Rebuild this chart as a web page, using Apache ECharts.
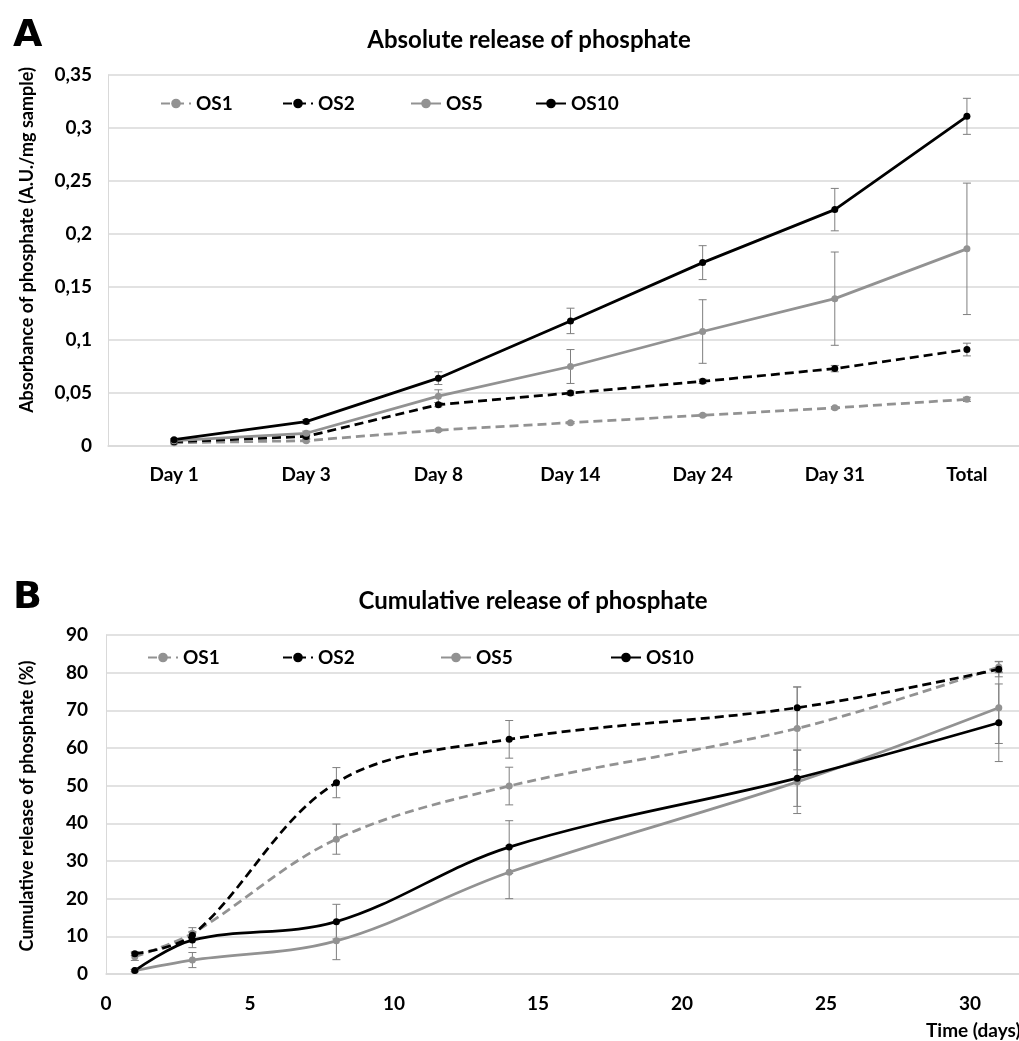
<!DOCTYPE html>
<html>
<head>
<meta charset="utf-8">
<script src="https://cdn.jsdelivr.net/npm/echarts@6/dist/echarts.min.js"></script>
<style>
  html, body { margin: 0; padding: 0; background: #fff; }
  #main { width: 1019px; height: 1041px; }
</style>
</head>
<body>
<div id="main"></div>
<script>
// panel A: absolute release
var categoriesA = ['Day 1', 'Day 3', 'Day 8', 'Day 14', 'Day 24', 'Day 31', 'Total'];
var a_os1 = [0.003, 0.005, 0.015, 0.022, 0.029, 0.036, 0.044];
var a_os1Err = [0.001, 0.001, 0.001, 0.001, 0.001, 0.001, 0.002];
var a_os2 = [0.004, 0.009, 0.039, 0.050, 0.061, 0.073, 0.091];
var a_os2Err = [0.001, 0.002, 0.002, 0.002, 0.002, 0.003, 0.006];
var a_os5 = [0.005, 0.012, 0.047, 0.075, 0.108, 0.139, 0.186];
var a_os5Err = [0.001, 0.002, 0.006, 0.016, 0.030, 0.044, 0.062];
var a_os10 = [0.006, 0.023, 0.064, 0.118, 0.173, 0.223, 0.311];
var a_os10Err = [0.001, 0.002, 0.006, 0.012, 0.016, 0.020, 0.017];

// panel B: cumulative release (%)
var daysB = [1, 3, 8, 14, 24, 31];
var b_os1 = [4.6, 10.8, 35.8, 49.9, 65.2, 81.5];
var b_os1Err = [1, 1.5, 4, 5, 11, 1.5];
var b_os2 = [5.4, 10.3, 50.8, 62.3, 70.7, 80.9];
var b_os2Err = [0.5, 1, 4, 5, 5.5, 2];
var b_os5 = [0.9, 3.7, 8.8, 27, 51, 70.7];
var b_os5Err = [0.3, 2, 5, 7, 8.4, 9.5];
var b_os10 = [0.9, 9, 13.9, 33.7, 52, 66.7];
var b_os10Err = [0.3, 2, 4.6, 7, 7.5, 10.3];

var FONT = 'Lato';
var GRAY = '#929292';
var LIGHT = '#d9d9d9';

function pairs(xs, ys) {
    return ys.map(function (v, i) { return [xs[i], v]; });
}

function lineSeries(name, data, color, dashed, idx, smooth) {
    return {
        name: name,
        type: 'line',
        xAxisIndex: idx,
        yAxisIndex: idx,
        data: data,
        smooth: smooth ? 0.35 : false,
        symbol: 'circle',
        symbolSize: 7,
        z: 3,
        itemStyle: { color: color },
        lineStyle: { color: color, width: 2.75, type: dashed ? [9, 5] : 'solid' }
    };
}

function errSeries(xs, vals, errs, idx) {
    return {
        type: 'custom',
        xAxisIndex: idx,
        yAxisIndex: idx,
        z: 2,
        silent: true,
        encode: { x: 0, y: [1, 2] },
        data: vals.map(function (v, i) { return [xs[i], v - errs[i], v + errs[i]]; }),
        renderItem: function (params, api) {
            var x = api.value(0);
            var lo = api.coord([x, api.value(1)]);
            var hi = api.coord([x, api.value(2)]);
            var st = { stroke: '#7f7f7f', lineWidth: 1 };
            return {
                type: 'group',
                children: [
                    { type: 'line', shape: { x1: lo[0], y1: lo[1], x2: hi[0], y2: hi[1] }, style: st },
                    { type: 'line', shape: { x1: lo[0] - 4, y1: lo[1], x2: lo[0] + 4, y2: lo[1] }, style: st },
                    { type: 'line', shape: { x1: hi[0] - 4, y1: hi[1], x2: hi[0] + 4, y2: hi[1] }, style: st }
                ]
            };
        }
    };
}

function legendAt(name, left, top) {
    return {
        data: [name],
        left: left,
        top: top,
        itemWidth: 30,
        itemHeight: 12,
        itemGap: 5,
        selectedMode: false,
        textStyle: { fontFamily: FONT, fontWeight: 'bold', fontSize: 19, color: '#000' }
    };
}

function sideName(text, x, y) {
    return {
        type: 'text', x: x, y: y, rotation: Math.PI / 2,
        style: { text: text, fontFamily: FONT, fontWeight: 'bold', fontSize: 18, fill: '#000',
                 align: 'center', verticalAlign: 'middle' }
    };
}

var labelStyle = { fontFamily: FONT, fontWeight: 'bold', fontSize: 19, color: '#000' };
var idxA = categoriesA.map(function (c, i) { return i; });

var chart = echarts.init(document.getElementById('main'));
chart.setOption({
    backgroundColor: '#fff',
    animation: false,
    title: [
        { text: 'Absolute release of phosphate', left: 524, top: 23, textAlign: 'center',
          textStyle: { fontFamily: FONT, fontWeight: 'bold', fontSize: 24, color: '#000' } },
        { text: 'Cumulative release of phosphate', left: 528, top: 584, textAlign: 'center',
          textStyle: { fontFamily: FONT, fontWeight: 'bold', fontSize: 24, color: '#000' } },
        { text: 'A', left: 8, top: 12, textStyle: { fontFamily: 'DejaVu Sans', fontWeight: 900, fontSize: 38, color: '#000' } },
        { text: 'B', left: 8, top: 574, textStyle: { fontFamily: 'DejaVu Sans', fontWeight: 900, fontSize: 38, color: '#000' } }
    ],
    legend: [
        legendAt('OS1', 155, 89), legendAt('OS2', 277, 89), legendAt('OS5', 405, 89), legendAt('OS10', 530, 89),
        legendAt('OS1', 142, 643), legendAt('OS2', 277, 643), legendAt('OS5', 435, 643), legendAt('OS10', 605, 643)
    ],
    grid: [
        { left: 108, top: 75, width: 925, height: 371, outerBoundsMode: 'none' },
        { left: 106, top: 635, width: 1008, height: 339, outerBoundsMode: 'none' }
    ],
    xAxis: [
        {
            type: 'category', gridIndex: 0, data: categoriesA,
            axisTick: { show: false },
            axisLine: { lineStyle: { color: LIGHT, width: 1.5 } },
            axisLabel: Object.assign({ margin: 19 }, labelStyle)
        },
        {
            type: 'value', gridIndex: 1, min: 0, max: 35, interval: 5,
            splitLine: { show: false },
            axisTick: { show: false },
            axisLine: { lineStyle: { color: LIGHT, width: 1.5 } },
            axisLabel: Object.assign({ margin: 20 }, labelStyle)
        }
    ],
    yAxis: [
        {
            type: 'value', gridIndex: 0, min: 0, max: 0.35, interval: 0.05,
            axisLine: { show: true, lineStyle: { color: LIGHT } },
            axisTick: { show: false },
            splitLine: { lineStyle: { color: LIGHT, width: 1.5 } },
            axisLabel: Object.assign({
                margin: 16,
                formatter: function (v) { return String(+v.toFixed(2)).replace('.', ','); }
            }, labelStyle)
        },
        {
            type: 'value', gridIndex: 1, min: 0, max: 90, interval: 10,
            axisLine: { show: true, lineStyle: { color: LIGHT } },
            axisTick: { show: false },
            splitLine: { lineStyle: { color: LIGHT, width: 1.5 } },
            axisLabel: Object.assign({ margin: 18 }, labelStyle)
        }
    ],
    graphic: [
        sideName('Absorbance of phosphate (A.U./mg sample)', 27, 240),
        sideName('Cumulative release of phosphate (%)', 27, 806),
        { type: 'text', left: 926, top: 1021,
          style: { text: 'Time (days)', fontFamily: FONT, fontWeight: 'bold', fontSize: 19, fill: '#000' } }
    ],
    series: [
        errSeries(idxA, a_os1, a_os1Err, 0),
        errSeries(idxA, a_os2, a_os2Err, 0),
        errSeries(idxA, a_os5, a_os5Err, 0),
        errSeries(idxA, a_os10, a_os10Err, 0),
        lineSeries('OS1', a_os1, GRAY, true, 0, false),
        lineSeries('OS2', a_os2, '#000', true, 0, false),
        lineSeries('OS5', a_os5, GRAY, false, 0, false),
        lineSeries('OS10', a_os10, '#000', false, 0, false),

        errSeries(daysB, b_os1, b_os1Err, 1),
        errSeries(daysB, b_os2, b_os2Err, 1),
        errSeries(daysB, b_os5, b_os5Err, 1),
        errSeries(daysB, b_os10, b_os10Err, 1),
        lineSeries('OS1', pairs(daysB, b_os1), GRAY, true, 1, true),
        lineSeries('OS2', pairs(daysB, b_os2), '#000', true, 1, true),
        lineSeries('OS5', pairs(daysB, b_os5), GRAY, false, 1, true),
        lineSeries('OS10', pairs(daysB, b_os10), '#000', false, 1, true)
    ]
});
</script>
</body>
</html>
